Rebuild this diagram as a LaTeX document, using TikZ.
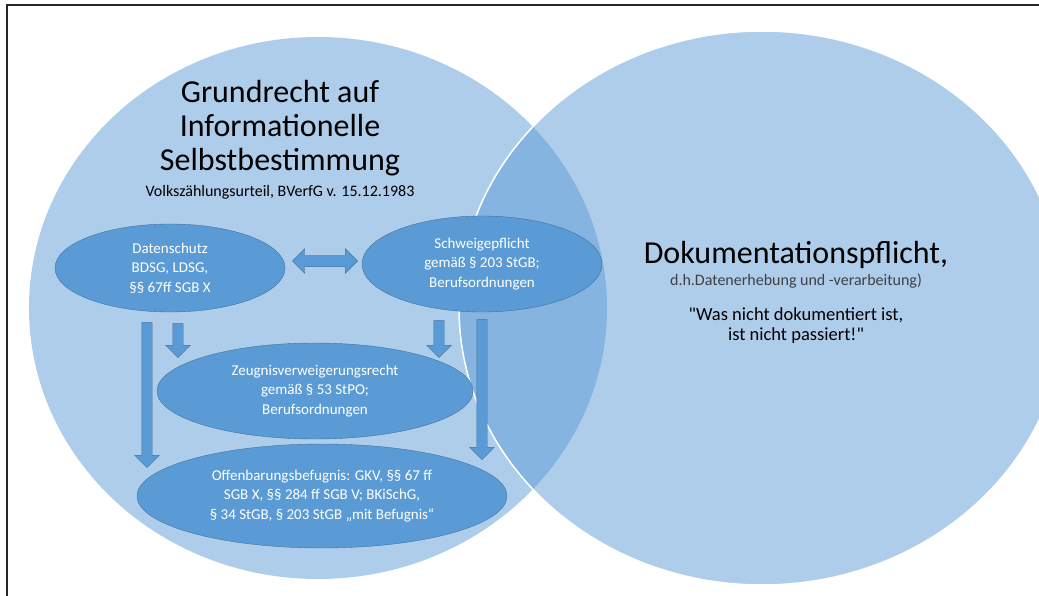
\documentclass[tikz,border=0pt]{standalone}
\usepackage{fontspec}
\setmainfont{Carlito}[Ligatures=TeXOff]
\usetikzlibrary{shapes.geometric,shapes.arrows}

\definecolor{vennblue}{HTML}{5E9BD6}
\definecolor{boxblue}{HTML}{5B9BD5}
\definecolor{boxline}{HTML}{41719C}
\definecolor{subgray}{HTML}{404040}

\tikzset{
    venn/.style={fill=vennblue, fill opacity=0.5},
    lawbox/.style={ellipse, draw=boxline, fill=boxblue, inner sep=0pt, text=white,
        align=center, font=\fontsize{15}{19.5}\selectfont},
    downarrow/.style={single arrow, draw=boxline, fill=boxblue, inner xsep=0pt,
        inner ysep=5pt, single arrow head extend=7pt, rotate=-90},
    botharrow/.style={double arrow, draw=boxline, fill=boxblue, inner xsep=0pt,
        inner ysep=5.5pt, double arrow head extend=6.5pt}
}

\begin{document}
\begin{tikzpicture}[x=1pt, y=-1pt]
    \clip (0,0) rectangle (1039,596);
    % frame
    \draw[line width=1.5pt, black!85] (7,596) -- (7,5) -- (1039,5);

    % the two sets
    \fill[venn] (318,308) ellipse [x radius=289, y radius=271];
    \filldraw[venn, draw=white, line width=1.5pt] (762,308) ellipse [x radius=303, y radius=277];

    % left set
    \node[align=center, inner sep=0pt, font=\fontsize{32}{34}\selectfont] (grund) at (280,128.5)
        {Grundrecht auf\\Informationelle\\Selbstbestimmung};
    \node[anchor=base, inner sep=0pt, font=\fontsize{16}{19}\selectfont] (urteil) at (280,197)
        {Volkszählungsurteil, BVerfG v. 15.12.1983};

    \node[lawbox, minimum width=230pt, minimum height=88pt] (dsch) at (170,268)
        {Datenschutz\\BDSG, LDSG,\\§§ 67ff SGB X};
    \node[lawbox, minimum width=240pt, minimum height=96pt] (schweig) at (482,264)
        {Schweigepflicht\\gemäß § 203 StGB;\\Berufsordnungen};
    \node[lawbox, minimum width=316pt, minimum height=96pt] (zeugnis) at (315,391)
        {Zeugnisverweigerungsrecht\\gemäß § 53 StPO;\\Berufsordnungen};
    \node[lawbox, minimum width=370pt, minimum height=104pt] (offen) at (322,496)
        {Offenbarungsbefugnis: GKV, §§ 67 ff\\SGB X, §§ 284 ff SGB V; BKiSchG,\\§ 34 StGB, § 203 StGB „mit Befugnis“};

    % arrows
    \node[botharrow, minimum height=65pt] (dschschweig) at (325,261) {};
    \node[downarrow, minimum height=145pt] (dschoffen) at (147,392.5) {};
    \node[downarrow, minimum height=34pt] (dschzeugnis) at (178,338) {};
    \node[downarrow, minimum height=37pt] (schweigzeugnis) at (439,336.5) {};
    \node[downarrow, minimum height=140pt] (schweigoffen) at (482,387) {};

    % right set
    \node[anchor=base, inner sep=0pt, font=\fontsize{32}{34}\selectfont] (doku) at (796,263)
        {Dokumentationspflicht,};
    \node[anchor=base, inner sep=0pt, text=subgray, font=\fontsize{16}{19}\selectfont] (dh) at (796,285)
        {d.h.Datenerhebung und -verarbeitung)};
    \node[align=center, anchor=base, inner sep=0pt, font=\fontsize{18.5}{20}\selectfont] (zitat) at (796,340)
        {"Was nicht dokumentiert ist,\\ist nicht passiert!"};
\end{tikzpicture}
\end{document}
